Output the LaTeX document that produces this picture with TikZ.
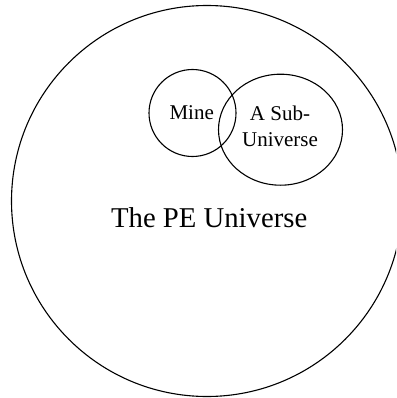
\documentclass[tikz,border=0pt]{standalone}
\usepackage{fontspec}
\setmainfont{Liberation Serif}
\usetikzlibrary{shapes.geometric}
\begin{document}
\begin{tikzpicture}[x=1pt,y=-1pt,
  ring/.style={draw=black,line width=1.1pt,inner sep=0pt},
  small/.style={font=\fontsize{21}{26}\selectfont,inner sep=0pt,anchor=base,align=center},
  big/.style={font=\fontsize{28.7}{34}\selectfont,inner sep=0pt,anchor=base}]
\useasboundingbox (0,0) rectangle (396,398);
\clip (0,0) rectangle (396,398);
\node[ring,circle,minimum size=391pt] (pe) at (207,201) {};
\node[ring,circle,minimum size=87pt] (mine) at (192.5,113) {};
\node[ring,ellipse,minimum width=124pt,minimum height=111pt] (sub) at (280.5,129.7) {};
\node[small] (minet) at (191.7,119.5) {Mine};
\node[small] (subt1) at (280,121) {A Sub-};
\node[small] (subt2) at (280,146.7) {Universe};
\node[big] (pet) at (209.2,227.3) {The PE Universe};
\end{tikzpicture}
\end{document}
